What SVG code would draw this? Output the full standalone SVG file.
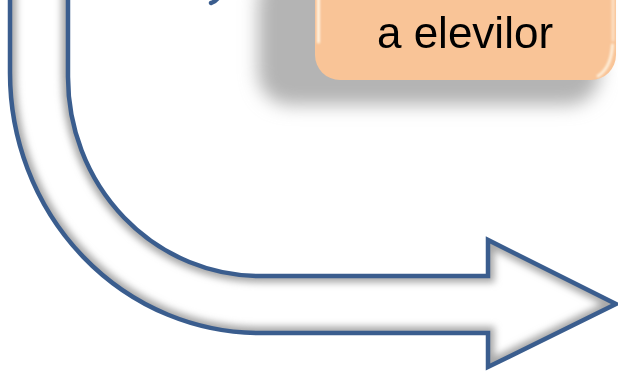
<svg xmlns="http://www.w3.org/2000/svg" width="618" height="371" viewBox="0 0 618 371">
  <style>
    .outline { fill: none; stroke: #3A5D8E; stroke-width: 4.5; stroke-linejoin: miter; }
    .label { font-family: "Liberation Sans", Arial, sans-serif; font-size: 44px; fill: #000; }
    .hl { fill: none; stroke: #FFF4E2; stroke-width: 3; stroke-linecap: round; }
  </style>
  <defs>
    <path id="arrowShape" d="M 10,-20 L 10,73 A 250 260 0 0 0 260,333 L 488,333 L 488,367 L 616,304 L 488,240 L 488,276 L 260,276 A 192 199 0 0 1 68,77 L 68,-20 Z"/>
    <clipPath id="arrowClip"><use href="#arrowShape"/></clipPath>
    <clipPath id="boxClip"><rect x="315" y="-30" width="301" height="110" rx="25"/></clipPath>
    <filter id="blurInner" x="-10%" y="-10%" width="120%" height="120%"><feGaussianBlur stdDeviation="3.5"/></filter>
    <filter id="blurShadow" x="-20%" y="-30%" width="140%" height="160%"><feGaussianBlur stdDeviation="9"/></filter>
    <filter id="blurEdge" x="-20%" y="-20%" width="140%" height="140%"><feGaussianBlur stdDeviation="1"/></filter>
  </defs>

  <g id="connectors">
    <g id="bent-arrow">
      <use href="#arrowShape" fill="#FFFFFF"/>
      <g clip-path="url(#arrowClip)">
        <use href="#arrowShape" fill="none" stroke="#A8A8A8" stroke-width="13" filter="url(#blurInner)"/>
      </g>
      <use href="#arrowShape" class="outline"/>
    </g>
    <path id="top-stub" d="M 218,-2 Q 215,2 211,3" fill="none" stroke="#3A5D8E" stroke-width="4.5" stroke-linecap="round"/>
  </g>

  <g id="node-box">
    <rect x="258" y="-30" width="342" height="135" rx="32" fill="#B4B4B4" filter="url(#blurShadow)"/>
    <rect x="315" y="-30" width="301" height="110" rx="25" fill="#F9C497"/>
    <g clip-path="url(#boxClip)" filter="url(#blurEdge)">
      <path class="hl" d="M 318.5,-30 L 318.5,42"/>
      <path class="hl" d="M 613,-30 L 613,40" opacity="0.6"/>
      <path class="hl" d="M 612.5,45 Q 611,68 598,76" opacity="0.9"/>
    </g>
    <text class="label" x="465" y="48" text-anchor="middle">a elevilor</text>
  </g>
</svg>
